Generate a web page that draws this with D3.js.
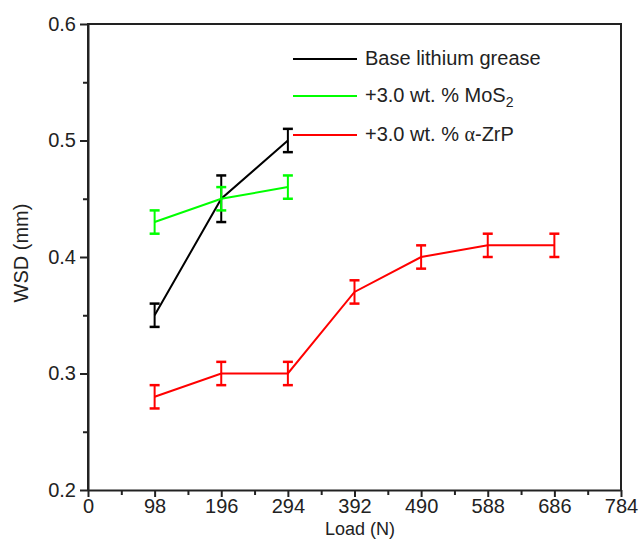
<!DOCTYPE html>
<html>
<head>
<meta charset="utf-8">
<script src="https://cdn.jsdelivr.net/npm/d3@7"></script>
<style>
  body { margin: 0; background: #fff; }
  text { font-family: "Liberation Sans", Arial, sans-serif; }
</style>
</head>
<body>
<div id="chart"></div>
<script>
// data
const loads = [98, 196, 294, 392, 490, 588, 686];
const baseWsd = [0.35, 0.45, 0.50];
const baseErr = [0.01, 0.02, 0.01];
const mosWsd = [0.43, 0.45, 0.46];
const mosErr = [0.01, 0.01, 0.01];
const zrpWsd = [0.28, 0.30, 0.30, 0.37, 0.40, 0.41, 0.41];
const zrpErr = [0.01, 0.01, 0.01, 0.01, 0.01, 0.01, 0.01];
const xTicks = [0, 98, 196, 294, 392, 490, 588, 686, 784];
const yTicks = [0.2, 0.3, 0.4, 0.5, 0.6];

const series = [
  {name: "Base lithium grease", color: "#000000", y: baseWsd, err: baseErr},
  {name: "+3.0 wt. % MoS", sub: "2", color: "#00ff00", y: mosWsd, err: mosErr},
  {name: "+3.0 wt. % ", greek: "α", after: "-ZrP", color: "#ff0000", y: zrpWsd, err: zrpErr}
];

var margin = {top: 24, right: 20, bottom: 49, left: 88},
    W = 641, H = 539,
    width = W - margin.left - margin.right,
    height = H - margin.top - margin.bottom;
const fs = "20px";

const svg = d3.select("#chart").append("svg")
  .attr("width", W).attr("height", H);
const g = svg.append("g")
  .attr("transform", "translate(" + margin.left + "," + margin.top + ")");

const x = d3.scaleLinear().domain([0, 784]).range([0, width]);
const y = d3.scaleLinear().domain([0.2, 0.6]).range([height, 0]);

// frame (top + right, no ticks)
g.append("path")
  .attr("d", "M0," + height + "V0H" + width + "V" + height)
  .attr("fill", "none").attr("stroke", "#222").attr("stroke-width", 2);

// minor ticks
const xMinor = xTicks.slice(0, -1).map(v => v + 49);
const yMinor = yTicks.slice(0, -1).map(v => v + 0.05);
g.append("g").attr("transform", "translate(0," + height + ")")
  .call(d3.axisBottom(x).tickValues(xMinor).tickSize(5).tickFormat(""))
  .call(a => a.select(".domain").remove());
g.append("g")
  .call(d3.axisLeft(y).tickValues(yMinor).tickSize(5).tickFormat(""))
  .call(a => a.select(".domain").remove());

// major axes
const xAxis = g.append("g").attr("transform", "translate(0," + height + ")")
  .call(d3.axisBottom(x).tickValues(xTicks).tickSize(7).tickSizeOuter(0).tickPadding(2));
const yAxis = g.append("g")
  .call(d3.axisLeft(y).tickValues(yTicks).tickFormat(d3.format(".1f")).tickSize(8).tickSizeOuter(0).tickPadding(4));

[xAxis, yAxis].forEach(a => {
  a.selectAll("path, line").attr("stroke", "#222").attr("stroke-width", 2);
  a.selectAll("text").attr("fill", "#222").style("font-size", fs)
    .style("font-family", "'Liberation Sans', Arial, sans-serif");
});
g.selectAll(".tick line").attr("stroke", "#222").attr("stroke-width", 2);

// axis titles
svg.append("text").attr("x", 360).attr("y", 535)
  .attr("text-anchor", "middle").style("font-size", "18px").attr("fill", "#222")
  .text("Load (N)");
svg.append("text").attr("transform", "translate(28,253) rotate(-90)")
  .attr("text-anchor", "middle").style("font-size", fs).attr("fill", "#222")
  .text("WSD (mm)");

// series
const line = d3.line().x(d => x(d[0])).y(d => y(d[1]));
series.forEach(s => {
  const pts = s.y.map((v, i) => [loads[i], v, s.err[i]]);
  g.append("path").datum(pts)
    .attr("d", line).attr("fill", "none")
    .attr("stroke", s.color).attr("stroke-width", 2);
  const eb = g.append("g").attr("stroke", s.color).attr("stroke-width", 2);
  pts.forEach(p => {
    const cx = x(p[0]), y1 = y(p[1] - p[2]), y2 = y(p[1] + p[2]);
    eb.append("line").attr("x1", cx).attr("x2", cx).attr("y1", y1).attr("y2", y2);
    eb.append("line").attr("x1", cx - 5).attr("x2", cx + 5).attr("y1", y1).attr("y2", y1).attr("stroke-width", 2.5);
    eb.append("line").attr("x1", cx - 5).attr("x2", cx + 5).attr("y1", y2).attr("y2", y2).attr("stroke-width", 2.5);
  });
});

// legend
const legY = [59, 96, 135];
series.forEach((s, i) => {
  svg.append("line").attr("x1", 293).attr("x2", 357)
    .attr("y1", legY[i]).attr("y2", legY[i])
    .attr("stroke", s.color).attr("stroke-width", 2);
  const t = svg.append("text").attr("x", 365).attr("y", legY[i] + 6)
    .style("font-size", fs).attr("fill", "#222");
  t.append("tspan").text(s.name);
  if (s.sub) t.append("tspan").attr("dy", 5).style("font-size", "14px").text(s.sub);
  if (s.greek) {
    t.append("tspan").style("font-family", "'Liberation Serif', 'DejaVu Serif', serif").text(s.greek);
    t.append("tspan").text(s.after);
  }
});
</script>
</body>
</html>
